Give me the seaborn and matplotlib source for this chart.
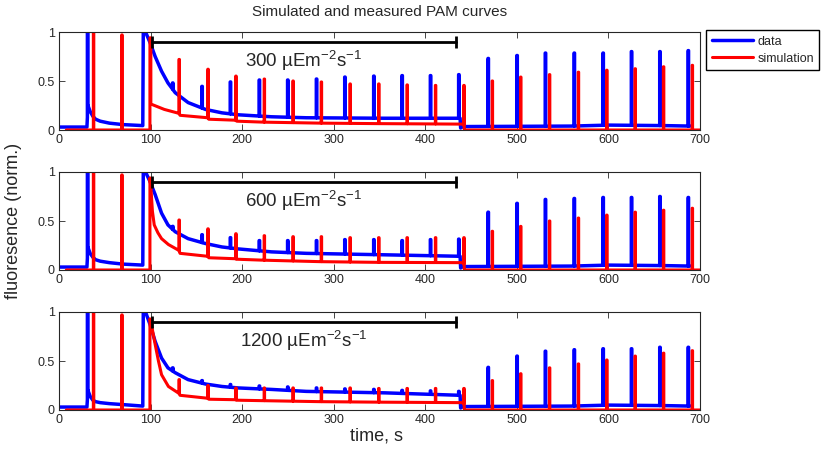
import numpy as np
import pandas as pd
import matplotlib
matplotlib.use("Agg")
import matplotlib.pyplot as plt
import seaborn as sns

sns.set_style("ticks")
plt.rcParams["font.family"] = ["Liberation Sans", "DejaVu Sans"]
plt.rcParams["mathtext.fontset"] = "custom"
plt.rcParams["mathtext.rm"] = "Liberation Sans"
plt.rcParams["mathtext.it"] = "Liberation Sans:italic"
plt.rcParams["xtick.direction"] = "in"
plt.rcParams["ytick.direction"] = "in"
plt.rcParams["xtick.top"] = True
plt.rcParams["ytick.right"] = True

# light intensities of the three panels
intensities = ["300", "600", "1200"]

# saturating pulse times (s)
data_pulse_t = [31, 124, 156, 187, 218.6, 249.6, 281, 312, 343.6, 374.5, 405.5,
                436.4, 468.5, 500, 531, 562.5, 594, 625, 656, 687]
sim_pulse_t = [37.5, 68.5, 131, 162.5, 193, 224, 255.4, 286.3, 317.7, 349, 380,
               411, 442, 473, 504, 535.5, 567, 598, 629, 660, 691.4]

# measured fluorescence, slow level
data_t = [0, 30.5, 31.6, 34, 37, 40, 45, 55, 70, 91.5, 92.2, 93.5, 94.5, 99.5, 105,
          112, 119, 127, 141, 160, 178, 196, 232, 270, 356, 438, 438.6, 441, 560,
          600, 660, 689]
data300_y = [0.03, 0.03, 0.25, 0.19, 0.14, 0.11, 0.09, 0.07, 0.055, 0.045, 1.3, 1.3,
             1.0, 0.89, 0.75, 0.6, 0.48, 0.38, 0.28, 0.21, 0.175, 0.155, 0.135,
             0.125, 0.12, 0.12, 0.02, 0.035, 0.04, 0.05, 0.045, 0.04]
data600_y = [0.03, 0.03, 0.23, 0.17, 0.13, 0.105, 0.09, 0.075, 0.06, 0.05, 1.3, 1.3,
             1.0, 0.9, 0.77, 0.58, 0.46, 0.39, 0.32, 0.27, 0.235, 0.215, 0.185,
             0.17, 0.155, 0.14, 0.02, 0.035, 0.04, 0.05, 0.045, 0.04]
data1200_y = [0.03, 0.03, 0.2, 0.14, 0.1, 0.085, 0.075, 0.065, 0.055, 0.04, 1.3, 1.3,
              1.0, 0.87, 0.70, 0.53, 0.43, 0.38, 0.31, 0.265, 0.24, 0.225, 0.21,
              0.19, 0.175, 0.15, 0.02, 0.035, 0.04, 0.05, 0.045, 0.04]

# measured pulse peaks
data300_peak = [1.3, 0.48, 0.445, 0.49, 0.51, 0.51, 0.52, 0.54, 0.55, 0.555, 0.555,
                0.565, 0.73, 0.76, 0.785, 0.785, 0.785, 0.80, 0.80, 0.81]
data600_peak = [1.3, 0.445, 0.36, 0.33, 0.30, 0.30, 0.30, 0.31, 0.31, 0.30, 0.31,
                0.315, 0.59, 0.68, 0.72, 0.73, 0.74, 0.74, 0.75, 0.74]
data1200_peak = [1.3, 0.43, 0.3, 0.26, 0.245, 0.235, 0.225, 0.215, 0.21, 0.2, 0.195,
                 0.19, 0.435, 0.55, 0.60, 0.615, 0.625, 0.625, 0.64, 0.64]

# simulated fluorescence, slow level
sim300_t = [8, 99.3, 99.31, 100.3, 100.31, 115, 130.9, 132.2, 162.3, 163.6, 192.8,
            194.1, 223.8, 286, 348.8, 441.8, 442.75, 700]
sim300_y = [0, 0, 0.94, 0.94, 0.265, 0.21, 0.17, 0.15, 0.125, 0.11, 0.10, 0.09,
            0.08, 0.07, 0.065, 0.06, 0, 0]
sim600_t = [8, 99.3, 99.31, 100.3, 102, 104, 108, 112, 119.5, 130.9, 132.2, 162.3,
            163.6, 192.8, 194.1, 223.8, 286, 348.8, 441.8, 442.75, 700]
sim600_y = [0, 0, 0.94, 0.85, 0.6, 0.46, 0.38, 0.32, 0.26, 0.2, 0.17, 0.14, 0.125,
            0.115, 0.11, 0.1, 0.085, 0.078, 0.075, 0, 0]
sim1200_t = [8, 99.3, 99.31, 100.3, 102, 105, 108.6, 112, 119.5, 130.9, 132.2,
             162.3, 163.6, 192.8, 194.1, 223.8, 286, 348.8, 441.8, 442.75, 700]
sim1200_y = [0, 0, 0.93, 0.9, 0.82, 0.67, 0.5, 0.36, 0.24, 0.17, 0.15, 0.12, 0.11,
             0.105, 0.1, 0.095, 0.085, 0.08, 0.075, 0, 0]

# simulated pulse peaks
sim300_peak = [1.3, 0.97, 0.72, 0.62, 0.55, 0.52, 0.50, 0.49, 0.47, 0.47, 0.46,
               0.455, 0.455, 0.50, 0.54, 0.565, 0.59, 0.61, 0.625, 0.645, 0.66]
sim600_peak = [1.3, 0.97, 0.51, 0.42, 0.37, 0.35, 0.34, 0.34, 0.33, 0.33, 0.33,
               0.33, 0.33, 0.395, 0.445, 0.50, 0.53, 0.56, 0.59, 0.61, 0.63]
sim1200_peak = [1.3, 0.97, 0.31, 0.25, 0.225, 0.225, 0.225, 0.225, 0.225, 0.22,
                0.22, 0.22, 0.22, 0.30, 0.37, 0.43, 0.47, 0.51, 0.55, 0.58, 0.605]

# actinic light period marker
light_on, light_off = 101.3, 434


def trace(ct, cy, pt, py, w=0.5):
    # slow level knots plus narrow rectangular pulses
    ct = np.asarray(ct, float)
    cy = np.asarray(cy, float)
    pts = [(t, y, 0) for t, y in zip(ct, cy)]
    for t, p in zip(pt, py):
        b0 = np.interp(t, ct, cy)
        b1 = np.interp(t + w, ct, cy)
        pts += [(t, b0, 1), (t, p, 2), (t + w, p, 3), (t + w, b1, 4)]
    pts.sort(key=lambda q: (q[0], q[2]))
    return pd.DataFrame({"t": [q[0] for q in pts], "f": [q[1] for q in pts]})


panels = [
    (data300_y, data300_peak, sim300_t, sim300_y, sim300_peak),
    (data600_y, data600_peak, sim600_t, sim600_y, sim600_peak),
    (data1200_y, data1200_peak, sim1200_t, sim1200_y, sim1200_peak),
]

W, H = 828, 451
fig = plt.figure(figsize=(W / 100, H / 100), dpi=100)
tops = [32, 172, 312]
for i, (dy, dp, st, sy, sp) in enumerate(panels):
    top = tops[i]
    ax = fig.add_axes([59 / W, 1 - (top + 98) / H, 641 / W, 98 / H])
    d = trace(data_t, dy, data_pulse_t, dp)
    s = trace(st, sy, sim_pulse_t, sp)
    sns.lineplot(data=d, x="t", y="f", sort=False, estimator=None, color="#0000ff",
                 lw=2.5, ax=ax, label="data")
    sns.lineplot(data=s, x="t", y="f", sort=False, estimator=None, color="#ff0000",
                 lw=2.2, ax=ax, label="simulation")
    ax.plot([light_on, light_off], [0.9, 0.9], color="black", lw=2,
            marker="|", markersize=9, markeredgewidth=2)
    ax.text(267, 0.64, intensities[i] + r" µEm$^{-2}$s$^{-1}$", fontsize=13.5,
            ha="center", va="baseline")
    ax.set_xlim(0, 700)
    ax.set_ylim(0, 1)
    ax.set_xticks(range(0, 701, 100))
    ax.set_yticks([0, 0.5, 1])
    ax.set_yticklabels(["0", "0.5", "1"])
    ax.tick_params(labelsize=9, length=4, width=0.6, pad=3)
    ax.set_xlabel("")
    ax.set_ylabel("")
    for sp_ in ax.spines.values():
        sp_.set_linewidth(0.8)
    handles, labels = ax.get_legend_handles_labels()
    ax.get_legend().remove()

fig.legend(handles, labels, loc="upper left", bbox_to_anchor=(706 / W, 1 - 30 / H),
           borderaxespad=0, fontsize=9, frameon=True, fancybox=False,
           edgecolor="black", handlelength=3.3, handletextpad=0.35, borderpad=0.45,
           labelspacing=0.4, framealpha=1)

fig.text(380 / W, 1 - 12 / H, "Simulated and measured PAM curves", fontsize=11,
         ha="center", va="center")
fig.text(377 / W, 1 - 436 / H, "time, s", fontsize=13, ha="center", va="center")
fig.text(14 / W, 1 - 221 / H, "fluoresence (norm.)", fontsize=13, rotation=90,
         ha="center", va="center")

fig.savefig("out.png", dpi=100)
